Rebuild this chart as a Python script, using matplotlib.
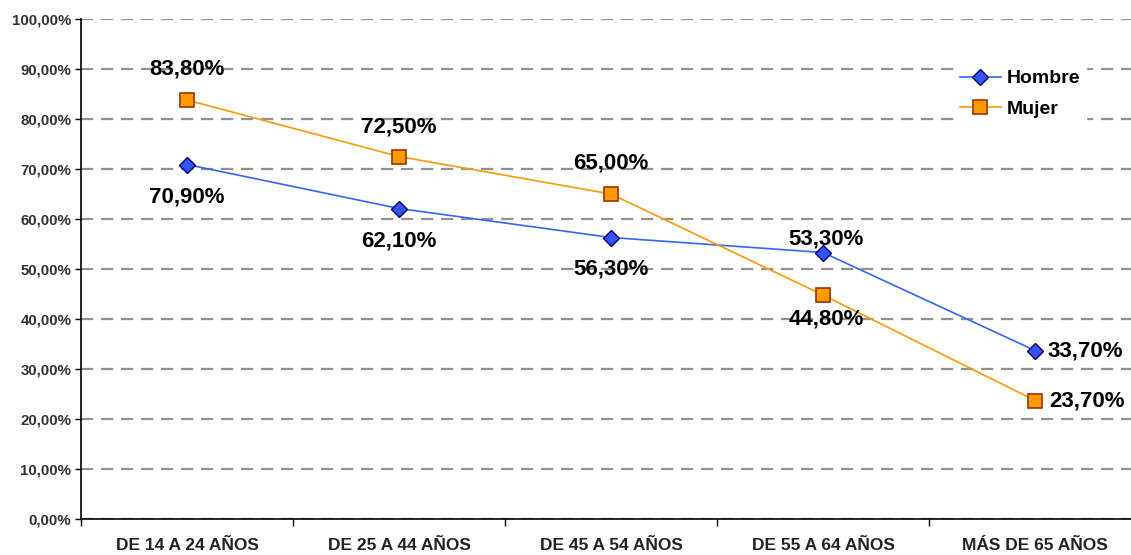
import matplotlib
matplotlib.use("Agg")
import matplotlib.pyplot as plt
from matplotlib.ticker import FixedLocator, FuncFormatter

plt.rcParams['font.family'] = ['Liberation Sans', 'DejaVu Sans']
plt.rcParams['font.weight'] = 'bold'

# ----------------- Data -----------------
categories = ['DE 14 A 24 AÑOS', 'DE 25 A 44 AÑOS', 'DE 45 A 54 AÑOS',
              'DE 55 A 64 AÑOS', 'MÁS DE 65 AÑOS']
hombre = [70.9, 62.1, 56.3, 53.3, 33.7]
mujer = [83.8, 72.5, 65.0, 44.8, 23.7]

# label placement (pixel offsets) per point
hombre_off = [(0, -32), (0, -32), (0, -32), (3, 13), (12, 0)]
mujer_off = [(0, 31), (0, 29), (0, 31), (3, -24), (14, 0)]


def pct(v, pos=None):
    return f"{v:.2f}".replace('.', ',') + '%'


# ----------------- Plot -----------------
fig = plt.figure(figsize=(11.31, 5.55), dpi=100)
ax = fig.add_axes([81 / 1131, 1 - 519 / 555, 1060 / 1131, 500 / 555])

x = list(range(len(categories)))
ax.plot(x, hombre, color='#3366FF', lw=1.2, marker='D', ms=8.5,
        mfc='#3355EE', mec='#000080', mew=1.0, label='Hombre', zorder=4)
ax.plot(x, mujer, color='#FF9900', lw=1.2, marker='s', ms=9.5,
        mfc='#FF9900', mec='#993300', mew=1.2, label='Mujer', zorder=4)

for xi, v, off in zip(x, hombre, hombre_off):
    ha = 'left' if off[0] > 5 else 'center'
    ax.annotate(pct(v), (xi, v), xytext=off, textcoords='offset pixels',
                ha=ha, va='center', fontsize=16, fontweight='bold', color='black', zorder=5)
for xi, v, off in zip(x, mujer, mujer_off):
    ha = 'left' if off[0] > 5 else 'center'
    ax.annotate(pct(v), (xi, v), xytext=off, textcoords='offset pixels',
                ha=ha, va='center', fontsize=16, fontweight='bold', color='black', zorder=5)

ax.set_xlim(-0.5, len(categories) - 0.5)
ax.set_ylim(0, 100)
ax.yaxis.set_major_locator(FixedLocator(range(0, 101, 10)))
ax.yaxis.set_major_formatter(FuncFormatter(pct))
ax.grid(axis='y', color='#919191', lw=1.6, ls=(0, (5.5, 3.5)))
ax.set_axisbelow(True)

ax.set_xticks([i - 0.5 for i in range(len(categories))])
ax.set_xticklabels([])
ax.set_xticks(x, minor=True)
ax.set_xticklabels(categories, minor=True)
ax.tick_params(axis='x', which='major', length=5, width=1, color='black')
ax.tick_params(axis='x', which='minor', length=0, pad=14, labelsize=12.5, labelcolor='#222222')
ax.tick_params(axis='y', length=4, width=1, labelsize=10.8, labelcolor='#333333', pad=3)

for s in ['top', 'right']:
    ax.spines[s].set_visible(False)
ax.spines['left'].set_linewidth(1.2)
ax.spines['bottom'].set_linewidth(1.2)

leg = ax.legend(loc='upper left', bbox_to_anchor=(873 / 1060, 0.91), frameon=True,
                fontsize=14, handlelength=2.1, handletextpad=0.3,
                labelspacing=0.65, borderpad=0.3, borderaxespad=0)
leg.get_frame().set_edgecolor('white')
leg.get_frame().set_facecolor('white')
leg.get_frame().set_alpha(1)

fig.savefig('out.png', dpi=100)
